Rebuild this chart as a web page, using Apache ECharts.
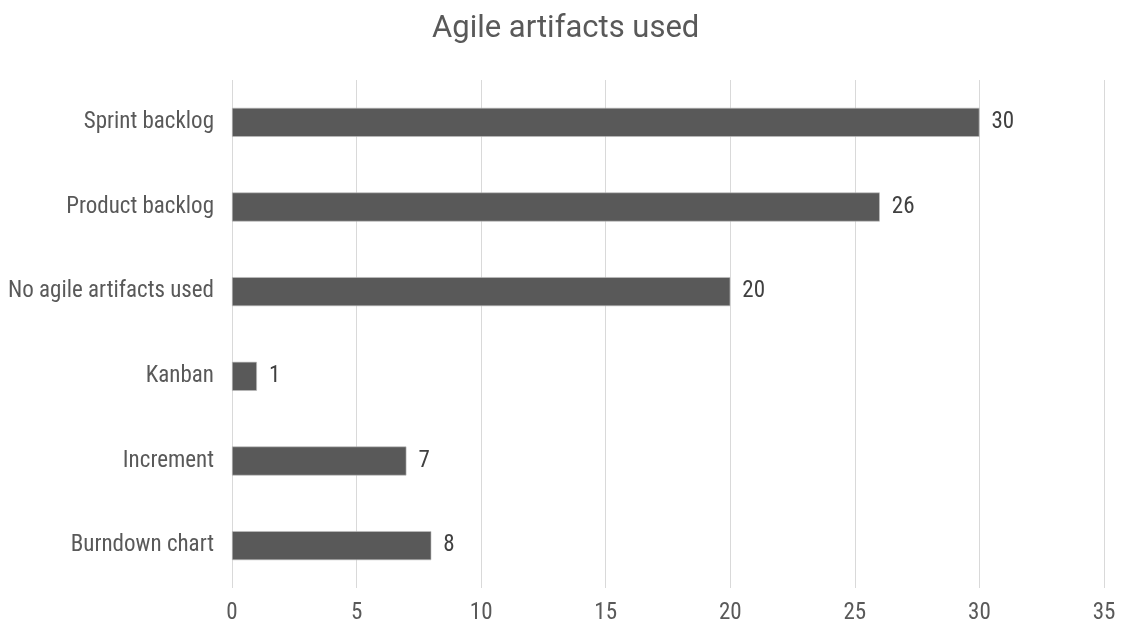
<!DOCTYPE html>
<html>
<head>
<meta charset="utf-8">
<title>Agile artifacts used</title>
<script src="https://cdn.jsdelivr.net/npm/echarts@6/dist/echarts.min.js"></script>
<style>
  html, body { margin: 0; padding: 0; background: #ffffff; }
  #chart { width: 1123px; height: 630px; }
</style>
</head>
<body>
<div id="chart"></div>
<script>
// Artifacts listed bottom-to-top so the first one ends up at the bottom of the axis
const artifacts = ['Burndown chart', 'Increment', 'Kanban', 'No agile artifacts used', 'Product backlog', 'Sprint backlog'];
const responses = [8, 7, 1, 20, 26, 30];
const axisTicks = [0, 5, 10, 15, 20, 25, 30, 35];

const narrow = "'Liberation Sans Narrow', 'Roboto Condensed', 'DejaVu Sans Condensed', Roboto, sans-serif";
const textGrey = '#595959';

const chart = echarts.init(document.getElementById('chart'));
chart.setOption({
  animation: false,
  title: {
    text: 'Agile artifacts used',
    left: 427,
    top: 9,
    textStyle: { fontFamily: 'Roboto, sans-serif', fontWeight: 'normal', fontSize: 31, color: textGrey }
  },
  grid: { left: 232, right: 19, top: 80, bottom: 42, containLabel: false },
  xAxis: {
    type: 'value',
    min: axisTicks[0],
    max: axisTicks[axisTicks.length - 1],
    interval: axisTicks[1] - axisTicks[0],
    axisLine: { show: false },
    axisTick: { show: false },
    splitLine: { show: true, lineStyle: { color: '#d9d9d9', width: 1 } },
    axisLabel: { margin: 14, fontFamily: narrow, fontSize: 23, color: textGrey }
  },
  yAxis: {
    type: 'category',
    data: artifacts,
    axisLine: { show: false },
    axisTick: { show: false },
    axisLabel: { margin: 18, fontFamily: narrow, fontSize: 23, color: textGrey }
  },
  series: [{
    type: 'bar',
    data: responses,
    barWidth: 29,
    itemStyle: { color: '#595959', borderColor: '#bfbfbf', borderWidth: 0.6 },
    label: {
      show: true,
      position: 'right',
      distance: 12,
      fontFamily: narrow,
      fontSize: 23,
      color: '#404040'
    }
  }]
});
</script>
</body>
</html>
